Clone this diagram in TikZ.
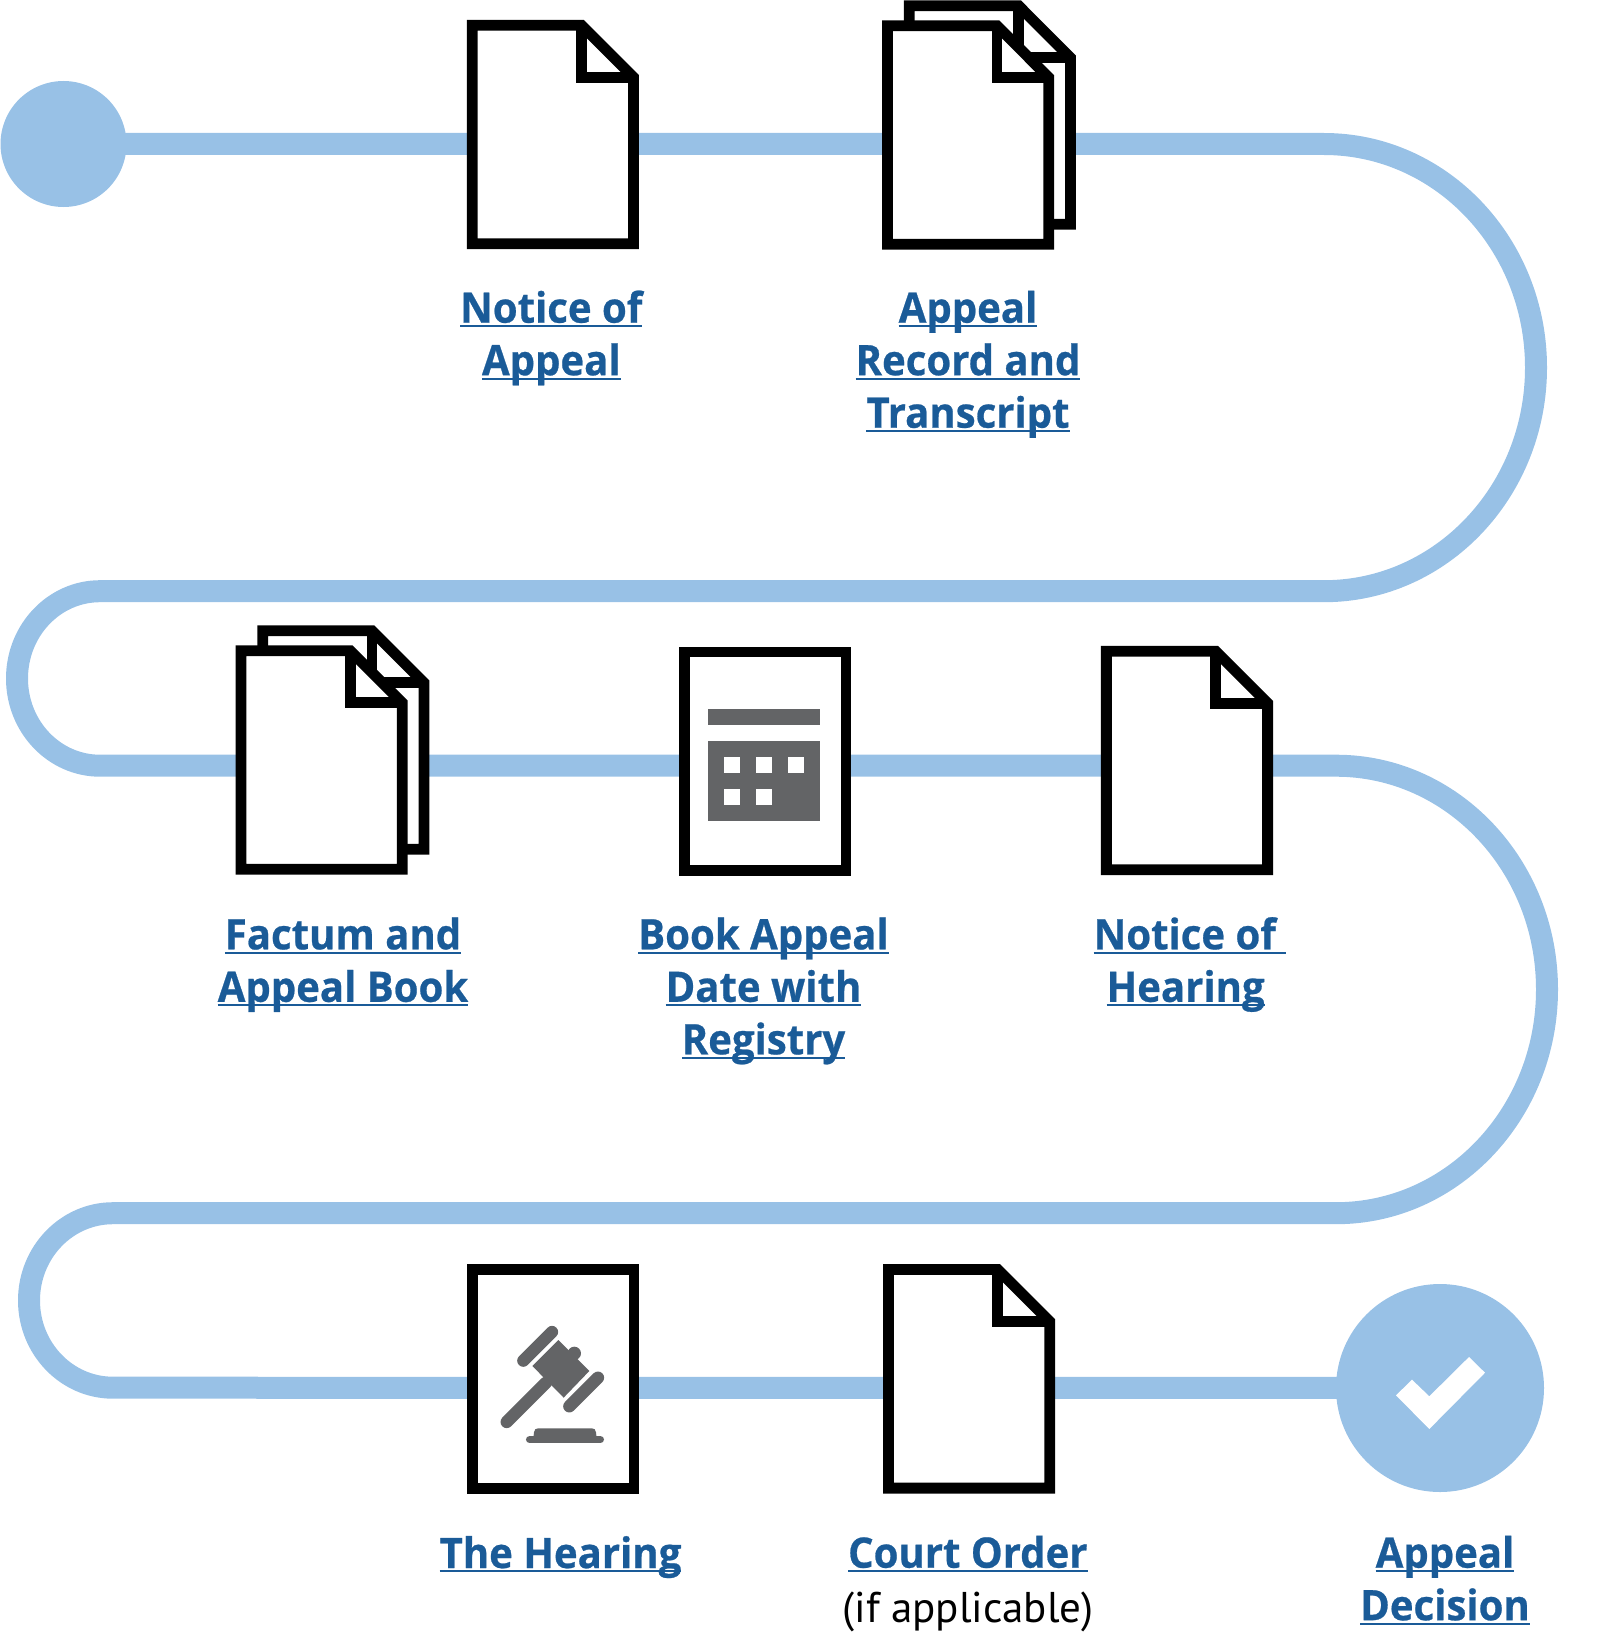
\documentclass[tikz,border=0pt]{standalone}
\usepackage{fontspec}
\setmainfont{PT Sans}
\newfontfamily\lnkfont[FakeStretch=0.955,BoldFeatures={FakeBold=0.6}]{Open Sans}
\definecolor{pathblue}{HTML}{98C1E6}
\definecolor{linkblue}{HTML}{1A5B98}
\definecolor{icongray}{HTML}{636466}
\newcommand\ulk[1]{\leavevmode\sbox0{#1}\rlap{\rule[-4.4pt]{\wd0}{2.1pt}}\usebox0}
\tikzset{
  x=1pt,y=-1pt,
  pathline/.style={draw=pathblue,line width=22pt,line join=round},
  dotnode/.style={circle,fill=pathblue,inner sep=0pt,minimum size=#1},
  outline/.style={draw=black,fill=white,line width=10.8pt,miter limit=10},
  lnk/.style={inner sep=0pt,outer sep=0pt,align=center,anchor=base,text=linkblue,
    font=\fontsize{42}{52.5}\selectfont\lnkfont\bfseries},
  plain/.style={inner sep=0pt,outer sep=0pt,anchor=base,text=black,
    font=\fontsize{43}{52.5}\selectfont},
  foldpage/.pic={
    \draw[outline] (5.25,5.25) -- (114.6,5.25) -- (166.5,57.2) -- (166.5,223.8) -- (5.25,223.8) -- cycle;
    \draw[outline,fill=none] (114.6,5.25) -- (114.6,57.2) -- (166.5,57.2);
  },
  stackpage/.pic={
    \pic at (21.7,-20) {foldpage};
    \pic at (0,0) {foldpage};
  },
  blankpage/.pic={
    \draw[outline] (5.25,5.25) rectangle (166.75,223.8);
  }
}
\begin{document}
\begin{tikzpicture}
\useasboundingbox (0,0) rectangle (1612,1640);
% end markers
\node[dotnode=126pt] (startdot) at (63.5,144) {};
\node[dotnode=208pt] (enddot) at (1440,1388) {};
% route
\coordinate (t1) at (1324,144);
\coordinate (t2) at (100,591.2);
\coordinate (t3) at (1336,765.7);
\coordinate (t4) at (113,1213.2);
\draw[pathline] (startdot.center) -- (t1)
  arc[start angle=-90,end angle=90,x radius=212,y radius=223.6]
  -- (t2)
  arc[start angle=-90,end angle=-270,x radius=83,y radius=87.25]
  -- (t3)
  arc[start angle=-90,end angle=90,x radius=211,y radius=223.75]
  -- (t4)
  arc[start angle=-90,end angle=-270,x radius=84,y radius=87.25]
  -- (enddot.center);
% documents
\pic at (467,20) {foldpage};
\pic at (882.3,20.5) {stackpage};
\pic at (235.7,645.5) {stackpage};
\pic at (679.3,646.7) {blankpage};
\pic at (1101.1,646) {foldpage};
\pic at (467.3,1264.5) {blankpage};
\pic at (883.2,1264.3) {foldpage};
% calendar icon
\fill[icongray] (708.3,709.3) rectangle (820.3,725.3);
\fill[icongray] (708.3,741.3) rectangle (820.3,821);
\fill[white] (724.3,757.3) rectangle +(16,16);
\fill[white] (756.2,757.3) rectangle +(16,16);
\fill[white] (788.2,757.3) rectangle +(16,16);
\fill[white] (724.3,789.2) rectangle +(16,16);
\fill[white] (756.2,789.2) rectangle +(16,16);
% gavel icon
\begin{scope}[shift={(420,1240)},x=0.3333pt,y=-0.3333pt]
  \fill[icongray] (415,300) -- (508,393) -- (431,473) -- (337,378) -- cycle;
  \fill[icongray] (463,340) circle[radius=20];
  \draw[icongray,line width=12.3pt,line cap=round] (260,546) -- (378,428);
  \draw[icongray,line width=12.3pt,line cap=round] (310,362) -- (396,276);
  \draw[icongray,line width=12.3pt,line cap=round] (448,499) -- (534,413);
  \draw[icongray,line width=7.4pt,line cap=round] (329,599) -- (541,599);
  \fill[icongray] (340,595) -- (342,577) .. controls (343,569) and (347,565) .. (354,565)
    -- (516,565) .. controls (523,565) and (527,569) .. (528,577) -- (530,595) -- cycle;
\end{scope}
% check mark
\fill[white] (1396,1395.3) -- (1412,1379.7) -- (1429.3,1396.3) -- (1469,1357) -- (1485,1372.7) -- (1429.3,1429) -- cycle;
% labels
\node[lnk] (lab1) at (551.3,375.2) {\ulk{Notice of}\\\ulk{Appeal}};
\node[lnk] (lab2) at (968,427.7) {\ulk{Appeal}\\\ulk{Record and}\\\ulk{Transcript}};
\node[lnk] (lab3) at (343,1001.8) {\ulk{Factum and}\\\ulk{Appeal Book}};
\node[lnk] (lab4) at (763.5,1054.3) {\ulk{Book Appeal}\\\ulk{Date with}\\\ulk{Registry}};
\node[lnk] (lab5) at (1190,1001.8) {\ulk{Notice of\ }\\\ulk{Hearing}\hspace*{8.8pt}};
\node[lnk] (lab6) at (560.5,1568) {\ulk{The Hearing}};
\node[lnk] (lab7) at (967.8,1567.7) {\ulk{Court Order}};
\node[plain] (lab8) at (968,1622.5) {(if applicable)};
\node[lnk] (lab9) at (1445,1620.2) {\ulk{Appeal}\\\ulk{Decision}};
\end{tikzpicture}
\end{document}
